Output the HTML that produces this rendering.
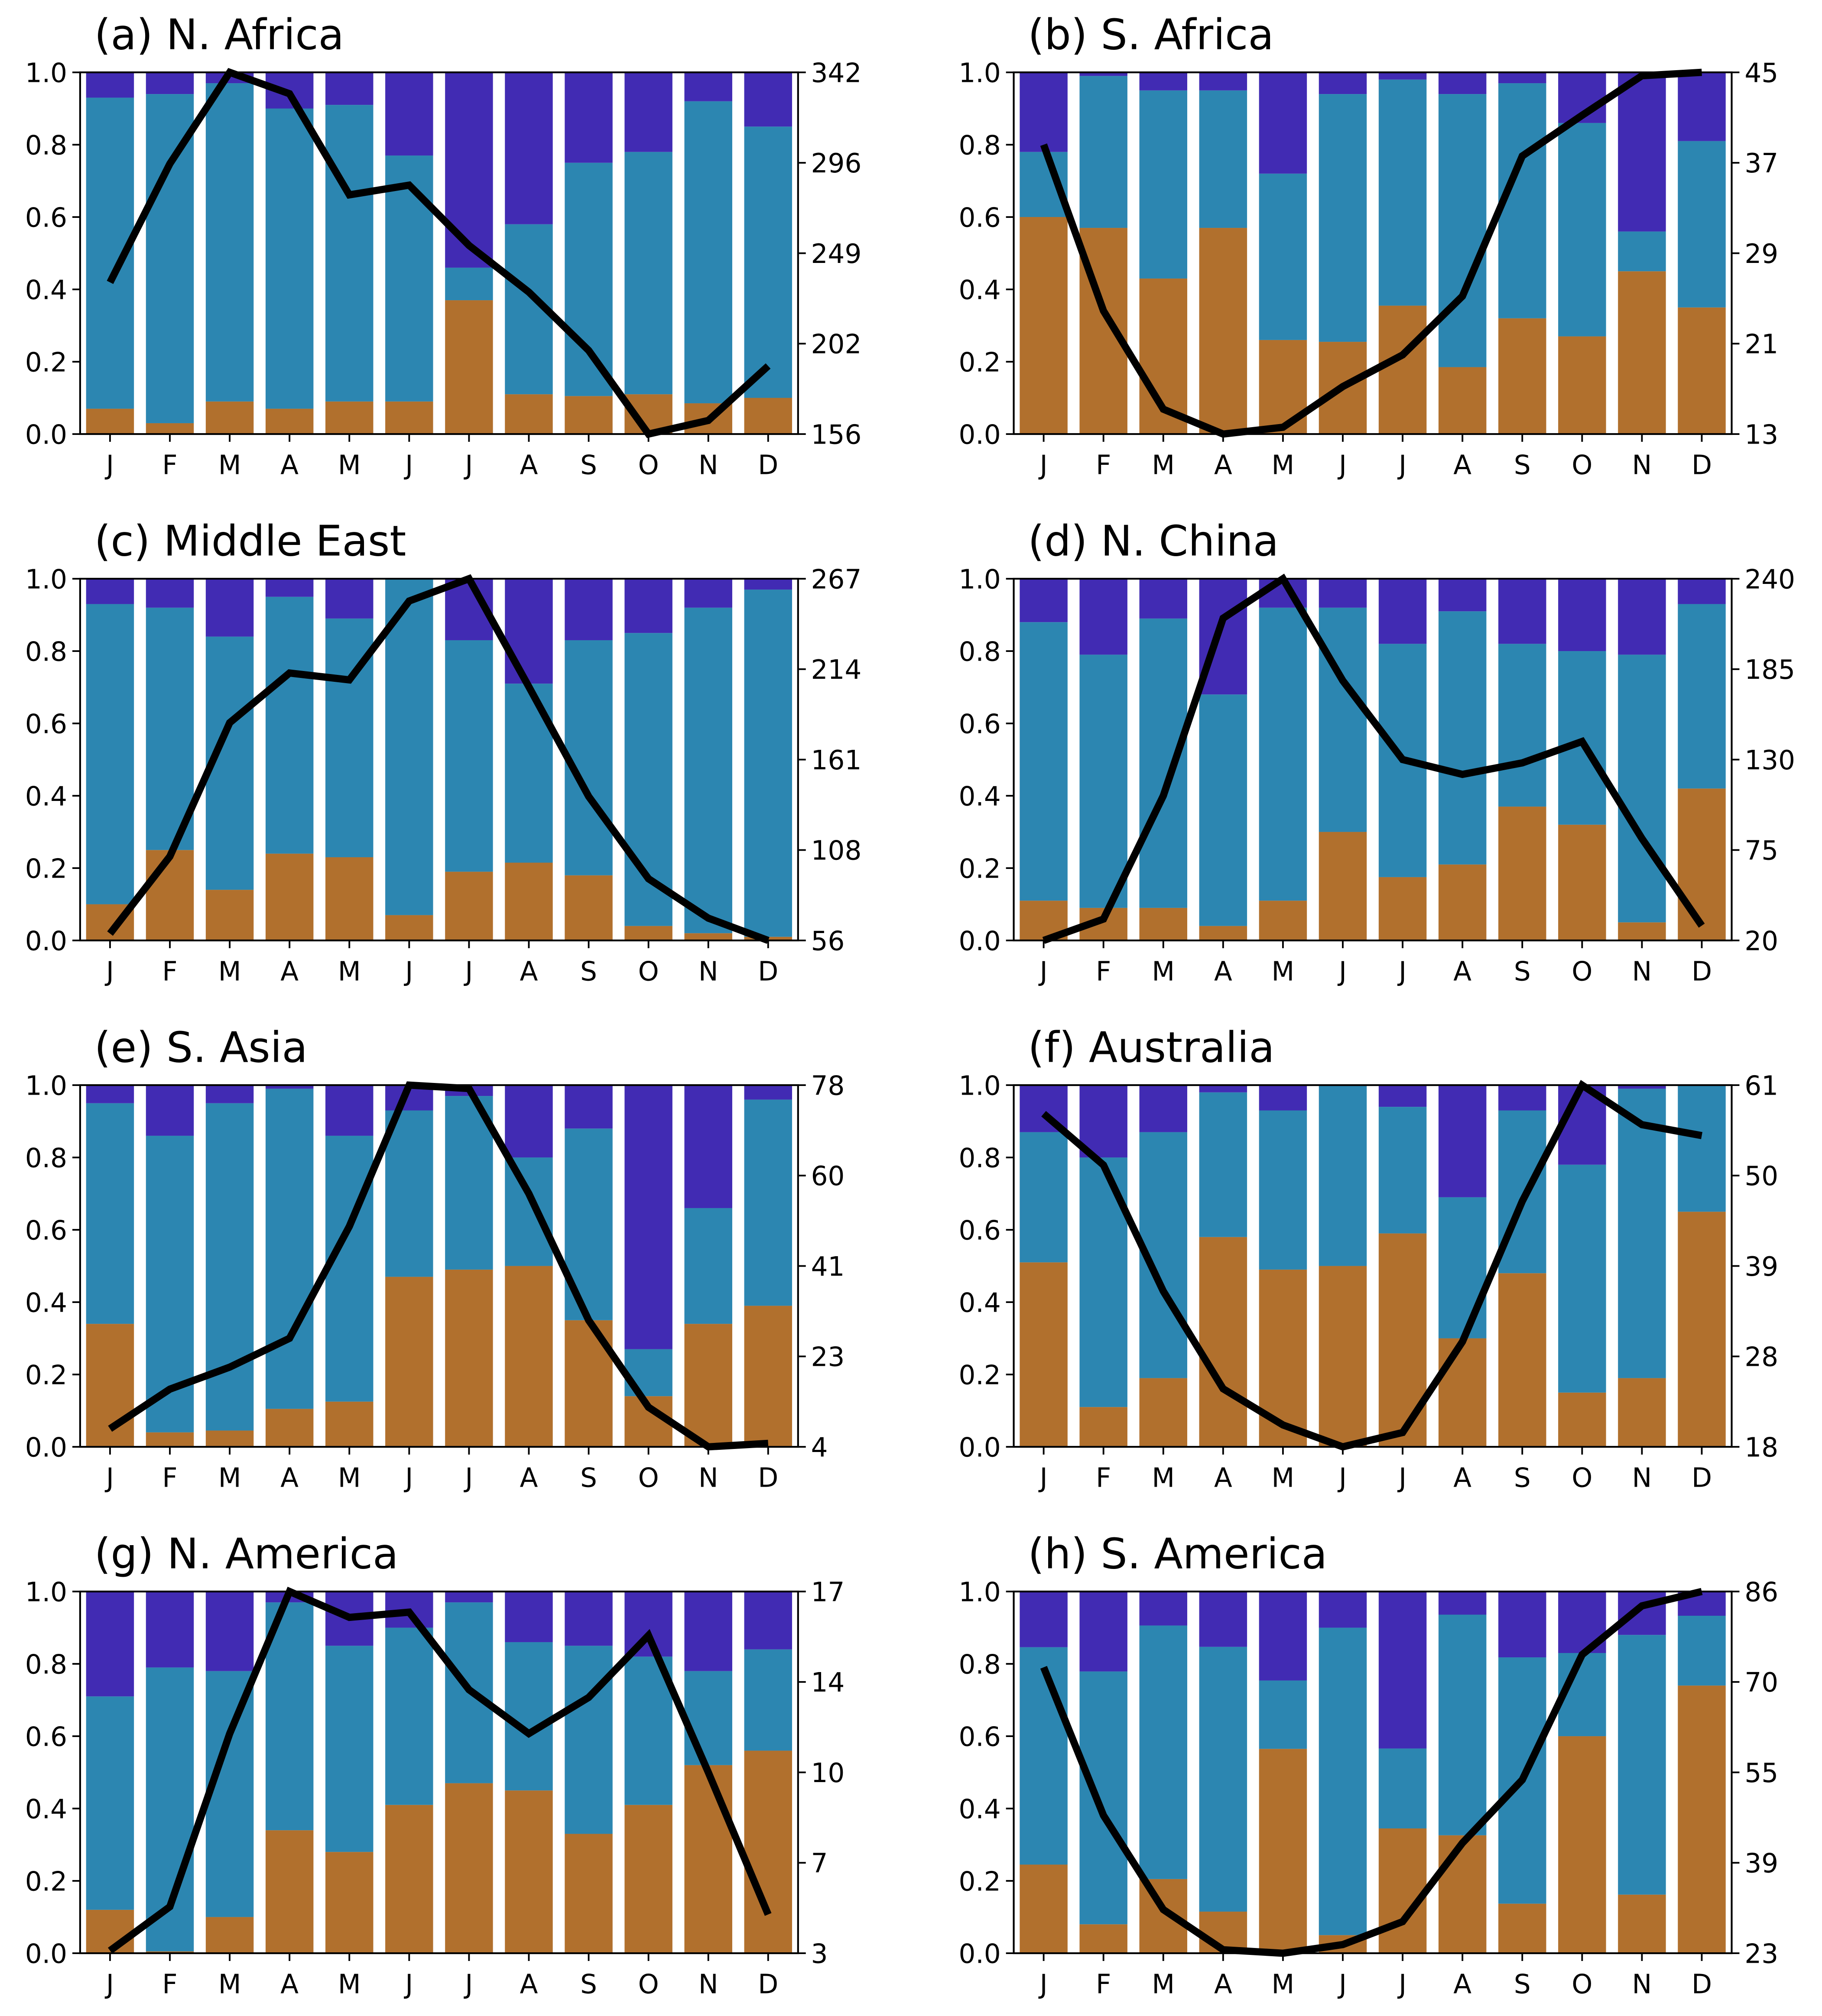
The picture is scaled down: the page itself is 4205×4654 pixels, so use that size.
<!DOCTYPE html>
<html><head><meta charset="utf-8"><title>Monthly fractions by region</title>
<style>
html,body{margin:0;padding:0;background:#fff;}
svg{display:block;}
text{font-family:"DejaVu Sans","Liberation Sans",sans-serif;fill:#000;}
</style></head>
<body>
<svg id="fig" width="4205" height="4654" viewBox="0 0 1410 1560.6" preserveAspectRatio="none" xmlns="http://www.w3.org/2000/svg"></svg>
<script>
const months = ["J","F","M","A","M","J","J","A","S","O","N","D"];
const titles = ["(a) N. Africa","(b) S. Africa","(c) Middle East","(d) N. China","(e) S. Asia","(f) Australia","(g) N. America","(h) S. America"];
// brown (bottom) fractions
const brownA = [.07,.03,.09,.07,.09,.09,.37,.11,.105,.11,.085,.10];
const brownB = [.60,.57,.43,.57,.26,.255,.355,.185,.32,.27,.45,.35];
const brownC = [.10,.25,.14,.24,.23,.07,.19,.215,.18,.04,.02,.01];
const brownD = [.11,.09,.09,.04,.11,.30,.175,.21,.37,.32,.05,.42];
const brownE = [.34,.04,.045,.105,.125,.47,.49,.50,.35,.14,.34,.39];
const brownF = [.51,.11,.19,.58,.49,.50,.59,.30,.48,.15,.19,.65];
const brownG = [.12,.005,.10,.34,.28,.41,.47,.45,.33,.41,.52,.56];
const brownH = [.245,.08,.205,.115,.565,.05,.345,.326,.137,.60,.162,.74];
// top of blue (cumulative brown+blue)
const blueTopA = [.93,.94,.97,.90,.91,.77,.46,.58,.75,.78,.92,.85];
const blueTopB = [.78,.99,.95,.95,.72,.94,.98,.94,.97,.86,.56,.81];
const blueTopC = [.93,.92,.84,.95,.89,1.0,.83,.71,.83,.85,.92,.97];
const blueTopD = [.88,.79,.89,.68,.92,.92,.82,.91,.82,.80,.79,.93];
const blueTopE = [.95,.86,.95,.99,.86,.93,.97,.80,.88,.27,.66,.96];
const blueTopF = [.87,.80,.87,.98,.93,1.0,.94,.69,.93,.78,.99,1.0];
const blueTopG = [.71,.79,.78,.97,.85,.90,.97,.86,.85,.82,.78,.84];
const blueTopH = [.846,.779,.906,.847,.754,.90,.566,.936,.818,.83,.88,.933];
// line series (right axis units)
const lineA = [234,295,342,331,279,284,253,229,199,156,163,191];
const lineB = [38.6,23.9,15.2,13,13.6,17.2,20,25.2,37.6,41.2,44.7,45];
const lineC = [60,105,183,212,208,254,267,204,140,92,69,56];
const lineD = [20,33,108,216,240,178,130,121,128,141,82,29];
const lineE = [7.7,15.8,20.3,26.2,49.1,78,77.3,55.8,29.9,12.1,4,4.7];
const lineF = [57.6,51.5,36.5,24.9,20.6,18,19.7,30.5,47.2,61,56.3,55];
const lineG = [3.1,4.8,11.5,17,16,16.2,13.2,11.5,12.9,15.3,10,4.5];
const lineH = [72.8,47,30.6,23.6,23,24.5,28.5,42.2,53.2,75,83.5,86];
// right-axis limits and tick labels
const rightMin = [156,13,56,20,4,18,3,23];
const rightMax = [342,45,267,240,78,61,17,86];
const rightTicksA = ["156","202","249","296","342"];
const rightTicksB = ["13","21","29","37","45"];
const rightTicksC = ["56","108","161","214","267"];
const rightTicksD = ["20","75","130","185","240"];
const rightTicksE = ["4","23","41","60","78"];
const rightTicksF = ["18","28","39","50","61"];
const rightTicksG = ["3","7","10","14","17"];
const rightTicksH = ["23","39","55","70","86"];
const leftTicks = ["0.0","0.2","0.4","0.6","0.8","1.0"];

const brownAll=[brownA,brownB,brownC,brownD,brownE,brownF,brownG,brownH];
const blueAll=[blueTopA,blueTopB,blueTopC,blueTopD,blueTopE,blueTopF,blueTopG,blueTopH];
const lineAll=[lineA,lineB,lineC,lineD,lineE,lineF,lineG,lineH];
const rtAll=[rightTicksA,rightTicksB,rightTicksC,rightTicksD,rightTicksE,rightTicksF,rightTicksG,rightTicksH];

const NS="http://www.w3.org/2000/svg";
const svg=document.getElementById('fig');
function mk(tag,attrs,parent){const e=document.createElementNS(NS,tag);for(const k in attrs)e.setAttribute(k,attrs[k]);(parent||svg).appendChild(e);return e;}
const COLB="#b1702d",COLM="#2c86b1",COLP="#412bb3";
const colX=[62,784.5], rowY=[56,448,840,1232], W=555.6, H=280;

for(let p=0;p<8;p++){
  const x0=colX[p%2], y0=rowY[Math.floor(p/2)];
  const g=mk('g',{});
  
  
  const step=W/12;
  const xs=i=>x0+(i+0.5)*step;
  const yl=v=>y0+H-v*H;
  const yr=v=>y0+H-(v-rightMin[p])/(rightMax[p]-rightMin[p])*H;
  const bw=step*0.8;
  const br=brownAll[p], bt=blueAll[p], ln=lineAll[p];
  for(let i=0;i<12;i++){
    const r1=mk('rect',{x:xs(i)-bw/2,y:yl(br[i]),width:bw,height:br[i]*H,fill:COLB},g);
    
    
    const r2=mk('rect',{x:xs(i)-bw/2,y:yl(bt[i]),width:bw,height:Math.max(0,bt[i]-br[i])*H,fill:COLM},g);
    
    
    const r3=mk('rect',{x:xs(i)-bw/2,y:yl(1),width:bw,height:Math.max(0,1-bt[i])*H,fill:COLP},g);
    
    
  }
  const pts=ln.map((v,i)=>xs(i).toFixed(2)+','+yr(v).toFixed(2)).join(' ');
  const pl=mk('polyline',{points:pts,fill:'none',stroke:'#000','stroke-width':5.6,'stroke-linejoin':'miter','stroke-linecap':'butt'},g);
  
  
  const fr=mk('rect',{x:x0,y:y0,width:W,height:H,fill:'none',stroke:'#000','stroke-width':1.4},g);
  
  
  for(let k=0;k<6;k++){
    const y=y0+H-k*H/5;
    mk('line',{x1:x0-6,x2:x0,y1:y,y2:y,stroke:'#000','stroke-width':1.3},g);
    const t=mk('text',{x:x0-10,y:y+7.5,'text-anchor':'end','font-size':20.5},g);
    t.textContent=leftTicks[k];
    
    
  }
  const rt=rtAll[p];
  for(let k=0;k<5;k++){
    const y=y0+H-k*H/4;
    mk('line',{x1:x0+W,x2:x0+W+6,y1:y,y2:y,stroke:'#000','stroke-width':1.3},g);
    const t=mk('text',{x:x0+W+10,y:y+7.5,'font-size':20.5},g);
    t.textContent=rt[k];
    
    
  }
  for(let i=0;i<12;i++){
    mk('line',{x1:xs(i),x2:xs(i),y1:y0+H,y2:y0+H+6,stroke:'#000','stroke-width':1.3},g);
    const t=mk('text',{x:xs(i),y:y0+H+31,'text-anchor':'middle','font-size':20.5},g);
    t.textContent=months[i];
    
    
  }
  const tt=mk('text',{x:x0+11,y:y0-18,'font-size':32.5},g);
  tt.textContent=titles[p];
  
  
}
</script>
</body></html>
